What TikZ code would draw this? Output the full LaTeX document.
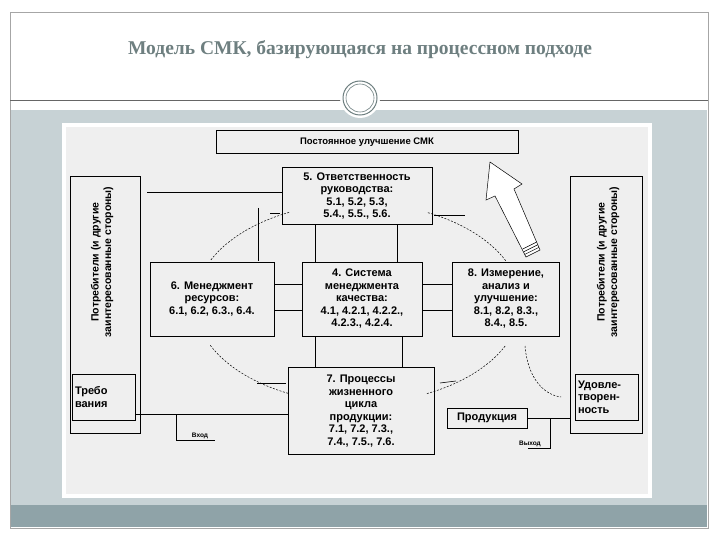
\documentclass[tikz,border=0pt]{standalone}
\usepackage{fontspec}
\setmainfont{Liberation Serif}
\newfontfamily\dsans{Liberation Sans}
\usetikzlibrary{arrows.meta}
\definecolor{band}{HTML}{C7D2D5}
\definecolor{barc}{HTML}{8FA3A8}
\definecolor{ttl}{HTML}{6E7F80}
\definecolor{inner}{HTML}{EFEFEF}
\begin{document}
\begin{tikzpicture}[x=1pt,y=-1pt,
  bx/.style={draw,line width=1pt,fill=inner,inner sep=0pt,align=center,font=\dsans\bfseries\fontsize{11}{12.5}\selectfont},
  ln/.style={line width=0.6pt},
  dsh/.style={line width=0.5pt,dash pattern=on 2pt off 1.5pt},
  sm/.style={font=\dsans\bfseries\fontsize{6.5}{7}\selectfont,inner sep=1pt}]
\useasboundingbox (0,0) rectangle (720,540);
\fill[white] (0,0) rectangle (720,540);
\draw[gray!70,line width=0.6pt] (10,12) -- (708,12) -- (708,528) -- (10,528) -- cycle;
\fill[band] (11,110) rectangle (707,527);
\fill[barc] (11,505) rectangle (707,527);
\draw[gray!80!black,line width=0.8pt] (10,100) -- (708,100);
\node[font=\fontsize{19.5}{23}\selectfont\bfseries,text=ttl] (title) at (360,50) {Модель СМК, базирующаяся на процессном подходе};
\fill[white] (360,98) circle (20);
\draw[ttl,line width=1pt] (360,98) circle (17);
\draw[ttl,line width=0.6pt] (360,98) circle (14);
\fill[white] (62,123) rectangle (652,498);
\fill[inner] (66,127) rectangle (648,494);
% boxes
\node[bx,minimum width=302,minimum height=23,font=\dsans\bfseries\fontsize{9.5}{10}\selectfont] (top) at (367,142) {Постоянное улучшение СМК};
\node[bx,minimum width=150,minimum height=57] (b5) at (357,196) {5. Ответственность\\руководства:\\5.1, 5.2, 5.3,\\5.4., 5.5., 5.6.};
\node[bx,minimum width=124,minimum height=74] (b6) at (212,299) {6. Менеджмент\\ресурсов:\\6.1, 6.2, 6.3., 6.4.};
\node[bx,minimum width=120,minimum height=74] (b4) at (362,299) {4. Система\\менеджмента\\качества:\\4.1, 4.2.1, 4.2.2.,\\4.2.3., 4.2.4.};
\node[bx,minimum width=107,minimum height=74] (b8) at (506,299) {8. Измерение,\\анализ и\\улучшение:\\8.1, 8.2, 8.3.,\\8.4., 8.5.};
\node[bx,minimum width=146,minimum height=87] (b7) at (361,411) {7. Процессы\\жизненного\\цикла\\продукции:\\7.1, 7.2, 7.3.,\\7.4., 7.5., 7.6.};
\node[bx,minimum width=70,minimum height=256] (L) at (105,305) {};
\node[bx,minimum width=72,minimum height=256] (R) at (606,305) {};
\node[rotate=90,align=center,font=\dsans\bfseries\fontsize{10.5}{12.5}\selectfont] (Lt) at (102,262) {Потребители (и другие\\заинтересованные стороны)};
\node[rotate=90,align=center,font=\dsans\bfseries\fontsize{10.5}{12.5}\selectfont] (Rt) at (608,262) {Потребители (и другие\\заинтересованные стороны)};
\node[bx,minimum width=63,minimum height=46,align=left,text width=58] (req) at (104,397) {Требо\\вания};
\node[bx,minimum width=63,minimum height=46,align=left,text width=58] (sat) at (607,397) {Удовле-\\творен-\\ность};
\node[bx,minimum width=80,minimum height=20] (prod) at (487,418) {Продукция};
% connectors
\coordinate (v1) at (176,440); \coordinate (v1e) at (215,440);
\draw[ln] (req.east |- 0,414) -- (b7.west |- 0,414);
\draw[ln] (176,414) -- (v1) -- (v1e);
\node[sm,anchor=south] (vh) at (200,440) {Вход};
\draw[ln] (prod.east) -- (R.west |- prod.east);
\draw[ln] (550,418) -- (550,448) -- (528,448);
\node[sm,anchor=south] (vyh) at (530,448) {Выход};
\foreach \y in {284,310}{
  \draw[ln] (b6.east |- 0,\y) -- (b4.west |- 0,\y);
  \draw[ln] (b4.east |- 0,\y) -- (b8.west |- 0,\y);}
\draw[ln] (315,225) -- (315,262); \draw[ln] (397,225) -- (397,262);
\draw[ln] (315,336) -- (315,368); \draw[ln] (402,336) -- (402,368);
\draw[ln] (147,192) -- (b5.west |- 0,192);
\draw[ln] (258,208) -- (258,261);
\draw[ln] (270,213) -- (280,213);
\draw[ln] (434,215) -- (465,215);
\draw[ln] (257,383) -- (286,383);
\draw[ln] (440,383) -- (456,381);
% dashed cycle arcs
\draw[dsh] plot[domain=115:155,samples=30] ({358+163*cos(\x)},{303-100*sin(\x)});
\draw[dsh] plot[domain=25:65,samples=30] ({358+163*cos(\x)},{303-100*sin(\x)});
\draw[dsh] plot[domain=205:245,samples=30] ({358+163*cos(\x)},{303-100*sin(\x)});
\draw[dsh] plot[domain=295:335,samples=30] ({358+163*cos(\x)},{303-100*sin(\x)});
\draw[dsh] (525,346) .. controls (528,380) and (545,395) .. (561,397);
% hollow arrow
\draw[line width=0.5pt,fill=white] (526,257) -- (540,250) -- (514,189) -- (522,184) -- (490,162) -- (486,200) -- (495,196) -- cycle;
\foreach \k in {1,2,3}{\draw[line width=0.5pt] (526-\k*1.2,257-\k*2.6) -- (540-\k*1.2,250-\k*2.6);}
\end{tikzpicture}
\end{document}
